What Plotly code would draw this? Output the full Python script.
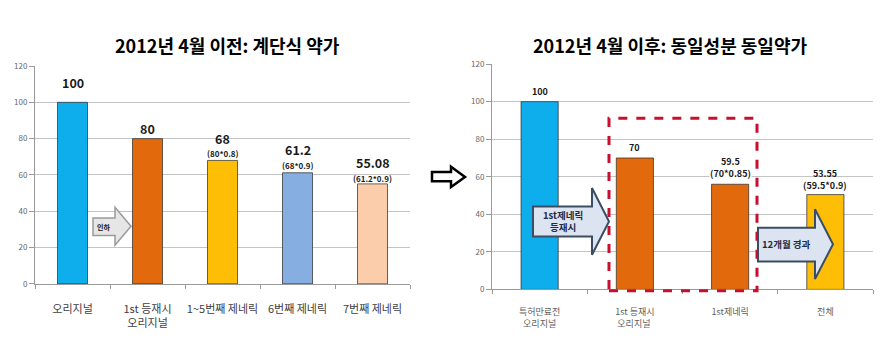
import plotly.graph_objects as go

W, H = 889, 346
FONT = "Noto Sans CJK KR"

# ---------------- data ----------------
left_title = "2012년 4월 이전: 계단식 약가"
left_categories = ["오리지널", "1st 등재시<br>오리지널", "1~5번째 제네릭", "6번째 제네릭", "7번째 제네릭"]
left_values = [100, 80, 68, 61.2, 55.08]
left_labels = ["100", "80", "68", "61.2", "55.08"]
left_sublabels = ["", "", "(80*0.8)", "(68*0.9)", "(61.2*0.9)"]

right_title = "2012년 4월 이후: 동일성분 동일약가"
right_categories = ["특허만료전<br>오리지널", "1st 등재시<br>오리지널 ", "1st제네릭", "전체"]
right_values = [100, 70, 56, 50.5]
right_labels = ["100", "70", "59.5", "53.55"]
right_sublabels = ["", "", "(70*0.85)", "(59.5*0.9)"]

y_ticks = [0, 20, 40, 60, 80, 100, 120]

# ---------------- styles ----------------
left_colors = ["#0EAEEC", "#E2690C", "#FDBE05", "#86AEE0", "#FBCDAA"]
right_colors = ["#0EAEEC", "#E2690C", "#E2690C", "#FDBE05"]
left_main_shift = [20, 10, 22, 23, 21]
left_sub_shift = [0, 0, 6.5, 7, 5]
right_main_shift = [10, 10, 23, 21]
right_sub_shift = [0, 0, 11, 9]


def px(x):
    return x / W


def py(y):
    return 1 - y / H


fig = go.Figure()
fig.add_trace(go.Bar(
    x=left_categories, y=left_values, width=0.4,
    marker=dict(color=left_colors, line=dict(color="rgba(50,50,50,0.75)", width=1)),
    xaxis="x", yaxis="y", showlegend=False, hoverinfo="skip"))
fig.add_trace(go.Bar(
    x=right_categories, y=right_values, width=0.39,
    marker=dict(color=right_colors, line=dict(color="rgba(50,50,50,0.75)", width=1)),
    xaxis="x2", yaxis="y2", showlegend=False, hoverinfo="skip"))

annotations = []
for c, v, lab, sub, s1, s2 in zip(left_categories, left_values, left_labels, left_sublabels,
                                  left_main_shift, left_sub_shift):
    annotations.append(dict(x=c, y=v, xref="x", yref="y", text="<b>%s</b>" % lab,
                            showarrow=False, xanchor="center", yanchor="middle", yshift=s1,
                            font=dict(family=FONT, size=12.5, color="#1a1a1a")))
    if sub:
        annotations.append(dict(x=c, y=v, xref="x", yref="y", text="<b>%s</b>" % sub,
                                showarrow=False, xanchor="center", yanchor="middle", yshift=s2,
                                font=dict(family=FONT, size=8, color="#1a1a1a")))
for c, v, lab, sub, s1, s2 in zip(right_categories, right_values, right_labels, right_sublabels,
                                  right_main_shift, right_sub_shift):
    annotations.append(dict(x=c, y=v, xref="x2", yref="y2", text="<b>%s</b>" % lab,
                            showarrow=False, xanchor="center", yanchor="middle", yshift=s1,
                            font=dict(family=FONT, size=9, color="#1a1a1a")))
    if sub:
        annotations.append(dict(x=c, y=v, xref="x2", yref="y2", text="<b>%s</b>" % sub,
                                showarrow=False, xanchor="center", yanchor="middle", yshift=s2,
                                bgcolor="white", borderpad=0,
                                font=dict(family=FONT, size=9, color="#1a1a1a")))


def paper_text(x, y, text, size, color):
    return dict(x=px(x), y=py(y), xref="paper", yref="paper", text=text, showarrow=False,
                xanchor="center", yanchor="middle", font=dict(family=FONT, size=size, color=color))


# titles
annotations.append(paper_text(228, 40, "<b>%s</b>" % left_title, 18, "#000"))
annotations.append(paper_text(670, 40, "<b>%s</b>" % right_title, 18, "#000"))
# arrow texts
annotations.append(paper_text(103, 228, "<b>인하</b>", 7, "#111"))
annotations.append(paper_text(563, 222, "<b>1st제네릭<br>등재시</b>", 9.5, "#1f2b45"))
annotations.append(paper_text(786, 246, "<b>12개월 경과</b>", 9.5, "#1f2b45"))


def block_arrow(x0, x1, xh, yb0, yb1, yh0, yh1):
    ym = (yh0 + yh1) / 2
    pts = [(x0, yb0), (x1, yb0), (x1, yh0), (xh, ym), (x1, yh1), (x1, yb1), (x0, yb1)]
    return "M " + " L ".join("%.5f,%.5f" % (px(a), py(b)) for a, b in pts) + " Z"


shapes = [
    # red dashed box
    dict(type="rect", xref="paper", yref="paper", x0=px(609), x1=px(757), y0=py(294), y1=py(116),
         line=dict(color="#C8102E", width=3, dash="dash"), fillcolor="rgba(0,0,0,0)", layer="above"),
    # double arrow between panels
    dict(type="path", xref="paper", yref="paper", path=block_arrow(432, 451, 465, 171.5, 181, 166, 187),
         line=dict(color="#000", width=2.5), fillcolor="white"),
    # 인하 arrow
    dict(type="path", xref="paper", yref="paper", path=block_arrow(93, 115, 131, 219, 237, 208, 247),
         line=dict(color="#9a9a9a", width=1.5), fillcolor="#e6e6e6", layer="above"),
    # 1st 제네릭 등재시 arrow
    dict(type="path", xref="paper", yref="paper", path=block_arrow(533, 592, 609, 207, 238, 188, 257),
         line=dict(color="#3b4d63", width=2), fillcolor="#dbe4f0", layer="above"),
    # 12개월 경과 arrow
    dict(type="path", xref="paper", yref="paper", path=block_arrow(758, 815, 833, 229, 264, 210, 282),
         line=dict(color="#3b4d63", width=2), fillcolor="#dbe4f0", layer="above"),
]

yaxis_common = dict(range=[0, 120], tickvals=y_ticks, showgrid=True, gridcolor="#c4c4c4", gridwidth=1,
                    showline=True, linecolor="#9a9a9a", linewidth=1, ticks="outside", ticklen=5,
                    tickcolor="#9a9a9a", tickfont=dict(family=FONT, size=8, color="#666"),
                    zeroline=False, fixedrange=True)
xaxis_common = dict(showline=True, linecolor="#9a9a9a", linewidth=1, ticks="outside", ticklen=4,
                    tickcolor="#9a9a9a", tickson="boundaries", showgrid=False, fixedrange=True,
                    tickangle=0)

fig.update_layout(
    width=W, height=H, margin=dict(l=0, r=0, t=0, b=0),
    paper_bgcolor="white", plot_bgcolor="white", bargap=0.5,
    xaxis=dict(domain=[px(35), px(410)], anchor="y", ticklabelstandoff=15,
               tickfont=dict(family=FONT, size=11, color="#404040"), **xaxis_common),
    yaxis=dict(domain=[py(287), py(62)], anchor="x", **yaxis_common),
    xaxis2=dict(domain=[px(492), px(873)], anchor="y2", ticklabelstandoff=14,
                tickfont=dict(family=FONT, size=9, color="#606060"), **xaxis_common),
    yaxis2=dict(domain=[py(292.7), py(60)], anchor="x2", **yaxis_common),
    annotations=annotations, shapes=shapes,
)

fig.write_html("out.html")
